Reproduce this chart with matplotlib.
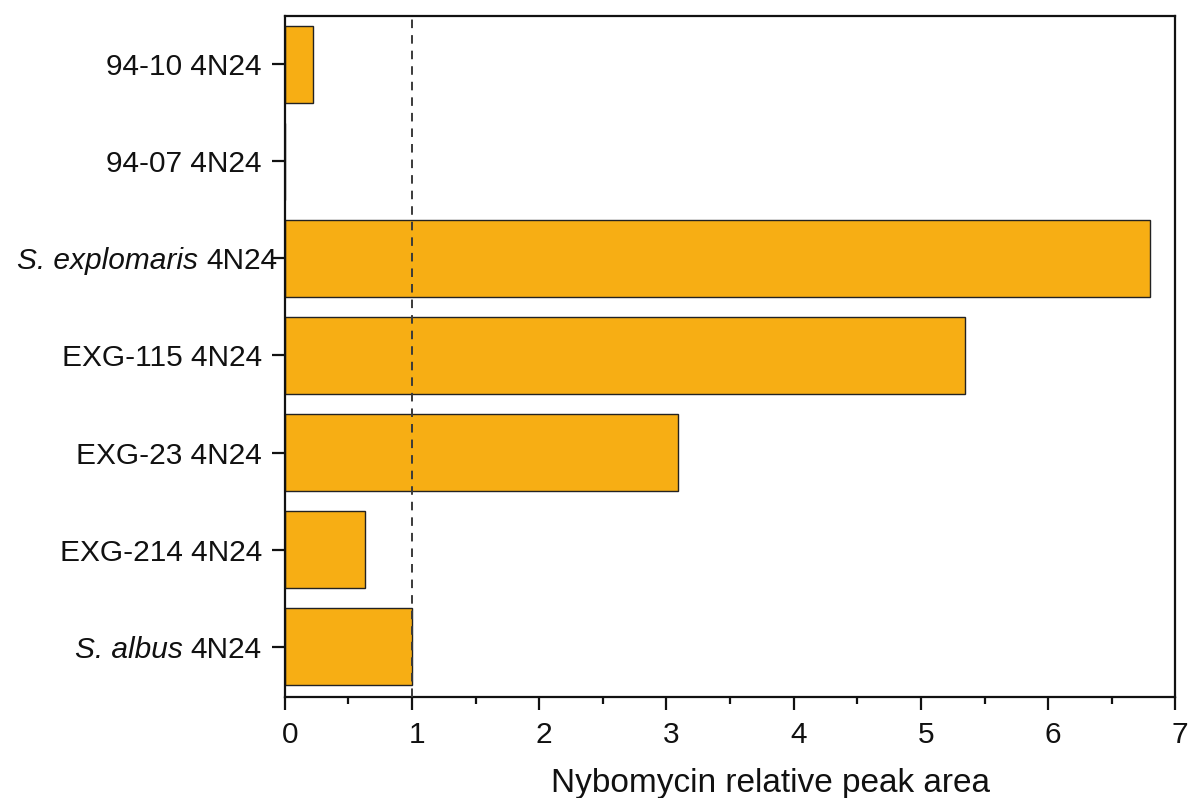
import matplotlib
matplotlib.use("Agg")
import matplotlib.pyplot as plt
from matplotlib.ticker import MultipleLocator
from matplotlib.transforms import offset_copy, ScaledTranslation

plt.rcParams['font.family'] = ['Liberation Sans', 'DejaVu Sans']

# Strains, bottom to top: (italic species part, regular part)
strain_species = ["S. albus", "", "", "", "S. explomaris", "", ""]
strain_names = ["4N24", "EXG-214 4N24", "EXG-23 4N24", "EXG-115 4N24",
                "4N24", "94-07 4N24", "94-10 4N24"]
relative_area = [1.0, 0.63, 3.09, 5.35, 6.80, 0.0, 0.22]
reference_level = 1.0

label_size = 21.5
ink = "#111111"

fig = plt.figure(figsize=(11.92, 7.98), dpi=100)
ax = fig.add_axes([0.239, 0.1266, 0.747, 0.8534])

ypos = list(range(len(strain_names)))
ax.barh(ypos, relative_area, height=0.8, color="#F7AE14",
        edgecolor="#222222", linewidth=1.0, zorder=2)
ax.axvline(reference_level, color="#3a3a3a", linestyle=(0, (4.4, 3.6)),
           linewidth=1.4, zorder=3)

ax.set_xlim(0, 7)
ax.set_ylim(-0.52, 6.5)
ax.set_yticks(ypos)
ax.set_yticklabels([""] * len(ypos))
ax.xaxis.set_major_locator(MultipleLocator(1))
ax.xaxis.set_minor_locator(MultipleLocator(0.5))

for s in ax.spines.values():
    s.set_linewidth(1.6)
    s.set_color(ink)

ax.tick_params(axis="both", which="major", length=9.5, width=1.6,
               labelsize=label_size, color=ink, labelcolor=ink)
ax.tick_params(axis="x", which="minor", length=5, width=1.6, color=ink)
ax.tick_params(axis="x", pad=8)

# x tick labels sit slightly right of their ticks
shift = ScaledTranslation(5 / 100, 0, fig.dpi_scale_trans)
for lab in ax.get_xticklabels():
    lab.set_transform(lab.get_transform() + shift)

# Strain labels: italic species name followed by the regular strain code
renderer = fig.canvas.get_renderer()
for y, species, name in zip(ypos, strain_species, strain_names):
    right_gap = 5 if species == "S. explomaris" else 16.5
    base = ax.get_yaxis_transform()
    t_name = ax.text(0, y, name, fontsize=label_size, color=ink,
                     ha="right", va="center_baseline",
                     transform=offset_copy(base, fig=fig, x=-right_gap,
                                           y=0, units="points"))
    if species:
        w_px = t_name.get_window_extent(renderer=renderer).width
        w_pt = w_px * 72.0 / fig.dpi
        space_pt = 0.28 * label_size
        ax.text(0, y, species, fontsize=label_size, color=ink,
                style="italic", ha="right", va="center_baseline",
                transform=offset_copy(base, fig=fig,
                                      x=-(right_gap + w_pt + space_pt),
                                      y=0, units="points"))

fig.text(0.646, 0.0075, "Nybomycin relative peak area", fontsize=24,
         color=ink, ha="center", va="baseline")

fig.savefig("out.png", dpi=100)
